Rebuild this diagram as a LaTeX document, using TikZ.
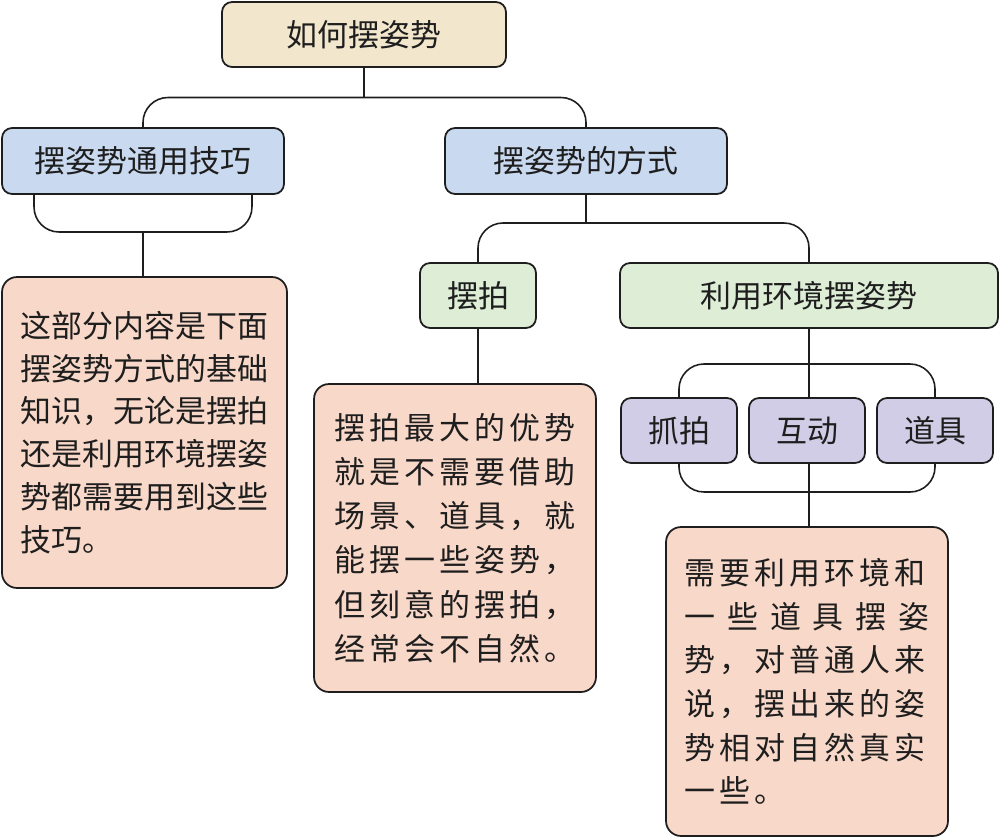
\documentclass[tikz,border=0pt]{standalone}
\usepackage{fontspec}
\setmainfont{Noto Sans CJK SC}
\newfontfamily\trackfont[LetterSpace=13]{Noto Sans CJK SC}
\usepackage{tikz}
\usetikzlibrary{calc}
\definecolor{ink}{HTML}{1E1E1E}
\definecolor{head}{HTML}{F2E6CC}
\definecolor{topic}{HTML}{C9D9F0}
\definecolor{way}{HTML}{DDEDD6}
\definecolor{kind}{HTML}{D2CDE6}
\definecolor{note}{HTML}{F8D8C9}

\begin{document}
\begin{tikzpicture}[
        x=0.02cm,y=-0.02cm,
        font=\fontsize{17.6}{24.4}\selectfont,
        box/.style={draw=ink,line width=1pt,rounded corners=0.2cm,text=ink,
          inner sep=0pt,outer sep=0pt,minimum height=1.3cm},
        memo/.style={box,fill=note,rounded corners=0.3cm,align=left},
        link/.style={draw=ink,line width=0.9pt,rounded corners=0.5cm}
      ]
      \useasboundingbox (0,0) rectangle (1000,838);

      % the root and its two topics
      \node[box,fill=head,minimum width=5.68cm] (root) at (364,34.5) {如何摆姿势};
      \node[box,fill=topic,minimum width=5.64cm,minimum height=1.32cm] (tips) at (143,161) {摆姿势通用技巧};
      \node[box,fill=topic,minimum width=5.64cm,minimum height=1.32cm] (ways) at (586,161) {摆姿势的方式};

      \coordinate (j1) at (364,97.5);
      \draw[link] (root) -- (j1);
      \draw[link] (tips.north) |- (j1) -| (ways.north);

      % left branch
      \node[memo,minimum width=5.7cm,minimum height=6.22cm] (tipsnote) at (144.5,432.5)
        {这部分内容是下面\\摆姿势方式的基础\\知识，无论是摆拍\\还是利用环境摆姿\\势都需要用到这些\\技巧。};
      \coordinate (j2) at (143,232);
      \draw[link] ($(tips.south west)+(32,0)$) |- (j2) -| ($(tips.south east)+(-32,0)$);
      \draw[link] (j2) -- (j2 |- tipsnote.north);

      % the two ways
      \node[box,fill=way,minimum width=2.32cm] (pose) at (478,295.5) {摆拍};
      \node[box,fill=way,minimum width=7.56cm] (scene) at (809,295.5) {利用环境摆姿势};
      \coordinate (j3) at (586,223);
      \draw[link] (ways) -- (j3);
      \draw[link] (pose.north) |- (j3) -| (scene.north);

      \node[memo,font=\trackfont\fontsize{17.6}{25.2}\selectfont,minimum width=5.64cm,minimum height=6.16cm] (posenote) at (455,538)
        {摆拍最大的优势\\就是不需要借助\\场景、道具，就\\能摆一些姿势，\\但刻意的摆拍，\\经常会不自然。};
      \draw[link] (pose.south) -- (pose.south |- posenote.north);

      % kinds of scene posing
      \node[box,fill=kind,minimum width=2.32cm] (snap) at (679,430.5) {抓拍};
      \node[box,fill=kind,minimum width=2.32cm] (talk) at (807,430.5) {互动};
      \node[box,fill=kind,minimum width=2.32cm] (prop) at (935,430.5) {道具};
      \coordinate (j4) at (809,364);
      \draw[link] (scene.south) -- (scene.south |- talk.north);
      \draw[link] (snap.north) |- (j4) -| (prop.north);

      \node[memo,font=\trackfont\fontsize{17.6}{24.8}\selectfont,minimum width=5.64cm,minimum height=6.18cm] (scenenote) at (807,681.5)
        {需要利用环境和\\\hbox to 4.9cm{一\hfill 些\hfill 道\hfill 具\hfill 摆\hfill 姿}\\势，对普通人来\\说，摆出来的姿\\势相对自然真实\\一些。};
      \coordinate (j5) at (809,492);
      \draw[link] (snap.south) |- (j5) -| (prop.south);
      \draw[link] (j5 |- talk.south) -- (j5 |- scenenote.north);
    \end{tikzpicture}
\end{document}
